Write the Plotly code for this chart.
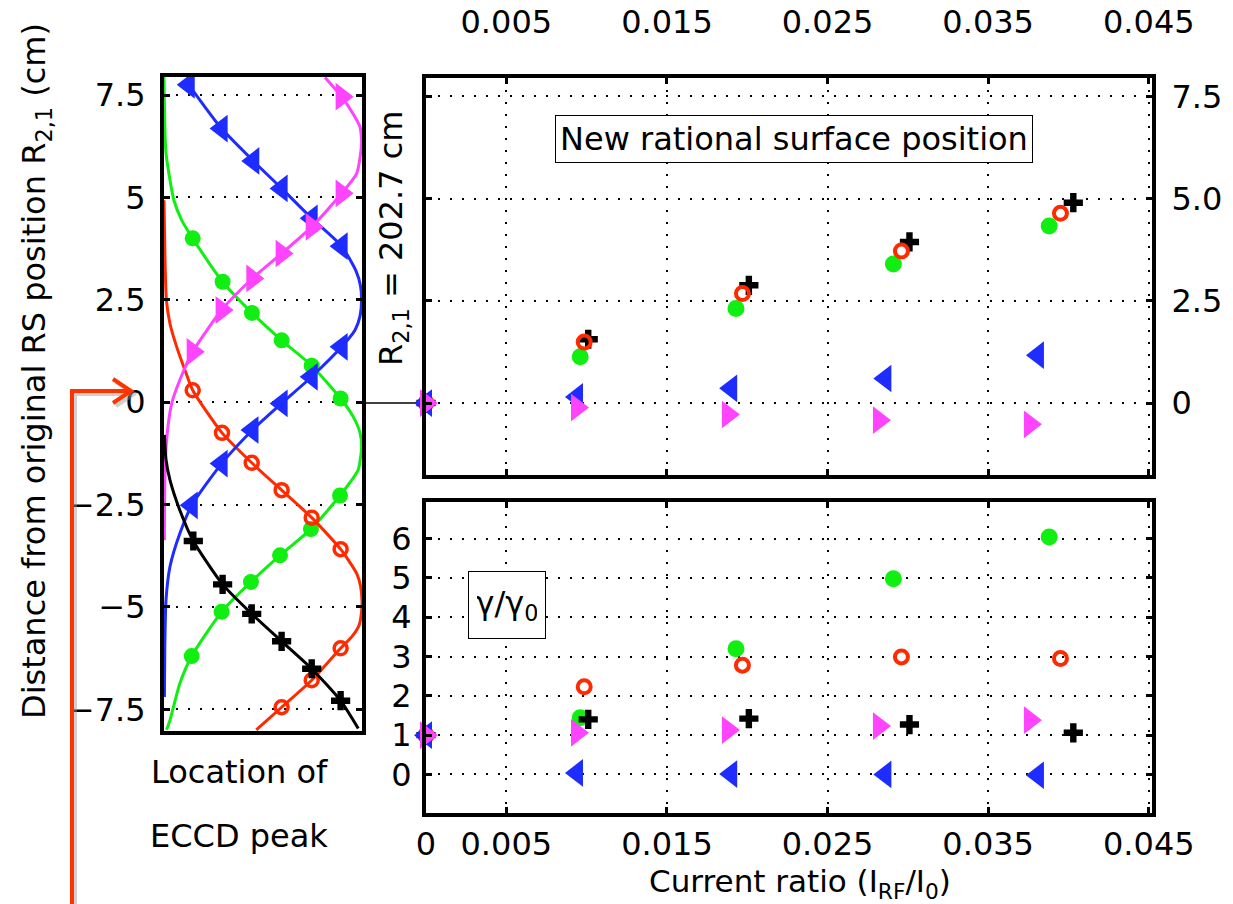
import plotly.graph_objects as go

W, H = 1233, 904

# ---------------- data: left panel (ECCD peak location curves) ----------------
green_curve_x = [0.0, 0.003, 0.01, 0.05, 0.09, 0.145, 0.296, 0.444, 0.594, 0.746, 0.892, 0.956, 0.99, 0.998, 0.98, 0.889, 0.742, 0.586, 0.439, 0.291, 0.14, 0.08, 0.03, 0.013]
green_curve_y = [7.94, 7.0, 6.08, 4.93, 4.44, 4.0, 2.94, 2.18, 1.51, 0.89, 0.09, -0.36, -0.75, -1.09, -1.66, -2.28, -3.1, -3.74, -4.39, -5.12, -6.2, -6.87, -7.77, -8.0]
green_mark_x = [0.145, 0.296, 0.444, 0.594, 0.746, 0.892, 0.889, 0.742, 0.586, 0.439, 0.291, 0.14]
green_mark_y = [4.0, 2.94, 2.18, 1.51, 0.89, 0.09, -2.28, -3.1, -3.74, -4.39, -5.12, -6.2]

red_curve_x = [0.0, 0.005, 0.012, 0.03, 0.064, 0.106, 0.145, 0.293, 0.443, 0.594, 0.746, 0.892, 0.973, 0.993, 1.0, 0.997, 0.985, 0.95, 0.892, 0.746, 0.594, 0.466]
red_curve_y = [4.93, 3.5, 2.5, 1.92, 1.35, 0.78, 0.29, -0.75, -1.48, -2.15, -2.82, -3.59, -4.18, -4.5, -4.84, -5.15, -5.45, -5.72, -6.01, -6.79, -7.45, -8.0]
red_mark_x = [0.145, 0.293, 0.443, 0.594, 0.746, 0.892, 0.892, 0.746, 0.594]
red_mark_y = [0.29, -0.75, -1.48, -2.15, -2.82, -3.59, -6.01, -6.79, -7.45]

blue_curve_x = [0.125, 0.291, 0.451, 0.594, 0.746, 0.897, 0.97, 0.992, 0.998, 0.99, 0.965, 0.897, 0.746, 0.594, 0.447, 0.291, 0.14, 0.08, 0.03, 0.01, 0.004, 0.002]
blue_curve_y = [7.75, 6.68, 5.89, 5.22, 4.49, 3.81, 3.2, 2.85, 2.5, 2.1, 1.76, 1.35, 0.62, -0.03, -0.68, -1.5, -2.52, -3.21, -4.02, -4.84, -6.0, -7.2]
blue_mark_x = [0.125, 0.291, 0.451, 0.594, 0.746, 0.897, 0.897, 0.746, 0.594, 0.447, 0.291, 0.14]
blue_mark_y = [7.75, 6.68, 5.89, 5.22, 4.49, 3.81, 1.35, 0.62, -0.03, -0.68, -1.5, -2.52]

magenta_curve_x = [0.813, 0.897, 0.96, 0.99, 0.998, 0.973, 0.897, 0.746, 0.594, 0.446, 0.291, 0.145, 0.08, 0.039, 0.013, 0.004, 0.002]
magenta_curve_y = [7.93, 7.46, 7.0, 6.72, 6.32, 5.58, 5.10, 4.28, 3.63, 3.02, 2.25, 1.23, 0.54, -0.03, -0.93, -2.0, -3.37]
magenta_mark_x = [0.897, 0.897, 0.746, 0.594, 0.446, 0.291, 0.145]
magenta_mark_y = [7.46, 5.10, 4.28, 3.63, 3.02, 2.25, 1.23]

black_curve_x = [0.002, 0.01, 0.03, 0.08, 0.148, 0.296, 0.443, 0.594, 0.746, 0.892, 0.981]
black_curve_y = [-0.8, -1.4, -1.9, -2.64, -3.39, -4.45, -5.17, -5.84, -6.51, -7.29, -7.97]
black_mark_x = [0.148, 0.296, 0.443, 0.594, 0.746, 0.892]
black_mark_y = [-3.39, -4.45, -5.17, -5.84, -6.51, -7.29]

# ---------------- data: right panels ----------------
black_ratio = [0, 0.0101, 0.0201, 0.0301, 0.0403]
red_ratio = [0, 0.00985, 0.0197, 0.0296, 0.0395]
green_ratio = [0, 0.0096, 0.0193, 0.0291, 0.0388]
blue_ratio = [0, 0.0094, 0.019, 0.0286, 0.0381]
magenta_ratio = [0, 0.0094, 0.0188, 0.0282, 0.0376]

black_rs = [0, 1.56, 2.88, 3.94, 4.90]
red_rs = [0, 1.49, 2.68, 3.72, 4.64]
green_rs = [0, 1.13, 2.31, 3.40, 4.33]
blue_rs = [0, 0.15, 0.36, 0.60, 1.17]
magenta_rs = [0, -0.11, -0.28, -0.42, -0.52]

black_gamma = [1, 1.40, 1.42, 1.27, 1.06]
red_gamma = [1, 2.23, 2.78, 2.99, 2.95]
green_gamma = [1, 1.44, 3.20, 4.98, 6.04]
magenta_gamma = [1, 1.06, 1.13, 1.23, 1.38]
blue_gamma = [1, 0.04, 0.01, 0.0, -0.02]

left_ticks = [-7.5, -5, -2.5, 0, 2.5, 5, 7.5]
left_ticktext = ["\u22127.5", "\u22125", "\u22122.5", "0", "2.5", "5", "7.5"]
top_ticks = [0, 2.5, 5, 7.5]
top_ticktext = ["0", "2.5", "5.0", "7.5"]
ratio_ticks = [0.005, 0.015, 0.025, 0.035, 0.045]
ratio_ticktext = ["0.005", "0.015", "0.025", "0.035", "0.045"]
ratio_ticks_bottom = [0, 0.005, 0.015, 0.025, 0.035, 0.045]
ratio_ticktext_bottom = ["0", "0.005", "0.015", "0.025", "0.035", "0.045"]
gamma_ticks = [0, 1, 2, 3, 4, 5, 6]

# ---------------- style ----------------
GREEN = "#11ee11"
RED = "#ff2a00"
BLUE = "#1e2cff"
MAGENTA = "#ff44ff"
BLACK = "#000000"
FONT = "DejaVu Sans"
FS = 32


def px(x):
    return x / W


def py(y):
    return 1 - y / H


fig = go.Figure()

# left panel curves
left_sets = [
    (green_curve_x, green_curve_y, green_mark_x, green_mark_y, GREEN, "circle", 16, 0),
    (red_curve_x, red_curve_y, red_mark_x, red_mark_y, RED, "circle-open", 13, 3.5),
    (blue_curve_x, blue_curve_y, blue_mark_x, blue_mark_y, BLUE, "triangle-left", 24, 0),
    (magenta_curve_x, magenta_curve_y, magenta_mark_x, magenta_mark_y, MAGENTA, "triangle-right", 24, 0),
    (black_curve_x, black_curve_y, black_mark_x, black_mark_y, BLACK, "cross", 16, 0),
]
for cx, cy, mx, my, col, sym, sz, lw in left_sets:
    fig.add_trace(go.Scatter(x=cx, y=cy, mode="lines", line=dict(color=col, width=3, shape="spline", smoothing=0.6),
                             xaxis="x", yaxis="y", showlegend=False, hoverinfo="skip"))
    fig.add_trace(go.Scatter(x=mx, y=my, mode="markers",
                             marker=dict(symbol=sym, size=sz, color=col, line=dict(color=col, width=lw)),
                             xaxis="x", yaxis="y", showlegend=False))

# right panels
right_sets = [
    (green_ratio, green_rs, green_gamma, GREEN, "circle", 17, 0),
    (black_ratio, black_rs, black_gamma, BLACK, "cross", 16, 0),
    (red_ratio, red_rs, red_gamma, RED, "circle-open", 13, 4),
    (blue_ratio, blue_rs, blue_gamma, BLUE, "triangle-left", 24, 0),
    (magenta_ratio, magenta_rs, magenta_gamma, MAGENTA, "triangle-right", 24, 0),
]
for rx, rs, gm, col, sym, sz, lw in right_sets:
    mk = dict(symbol=sym, size=sz, color=col, line=dict(color=col, width=lw))
    fig.add_trace(go.Scatter(x=rx, y=rs, mode="markers", marker=mk, xaxis="x2", yaxis="y2",
                             showlegend=False, cliponaxis=False))
    fig.add_trace(go.Scatter(x=rx, y=gm, mode="markers", marker=mk, xaxis="x3", yaxis="y3",
                             showlegend=False, cliponaxis=False))

axis_common = dict(showline=True, linecolor="black", linewidth=4, mirror="ticks",
                   ticks="inside", ticklen=6, tickwidth=3, tickcolor="black", automargin=False,
                   zeroline=False, tickfont=dict(family=FONT, size=FS, color="black"),
                   gridcolor="black", gridwidth=2, griddash="2px,10px")

fig.update_layout(
    width=W, height=H, autosize=False,
    margin=dict(l=0, r=0, t=0, b=0, pad=0, autoexpand=False),
    paper_bgcolor="white", plot_bgcolor="white",
    font=dict(family=FONT, size=FS, color="black"),
    xaxis=dict(domain=[px(164), px(362)], range=[0, 1.0], anchor="y", showticklabels=False,
               showgrid=False, ticks="", showline=True, linecolor="black", linewidth=4, mirror=True,
               zeroline=False, automargin=False),
    yaxis=dict(domain=[py(731), py(77)], range=[-8.03, 7.94], anchor="x",
               tickvals=left_ticks, ticktext=left_ticktext, showgrid=True, ticklabelstandoff=8,
               **axis_common),
    xaxis2=dict(domain=[px(426), px(1152)], range=[0, 0.0452], anchor="y2", side="top",
                tickvals=ratio_ticks, ticktext=ratio_ticktext, showgrid=True, ticklabelstandoff=28,
                **axis_common),
    yaxis2=dict(domain=[py(475), py(78)], range=[-1.76, 7.95], anchor="x2", side="right",
                tickvals=top_ticks, ticktext=top_ticktext, showgrid=True, ticklabelstandoff=9,
                **axis_common),
    xaxis3=dict(domain=[px(426), px(1152)], range=[0, 0.0452], anchor="y3", side="bottom",
                tickvals=ratio_ticks_bottom, ticktext=ratio_ticktext_bottom, showgrid=True,
                ticklabelstandoff=0, **axis_common),
    yaxis3=dict(domain=[py(813), py(502)], range=[-0.98, 6.93], anchor="x3", side="left",
                tickvals=gamma_ticks, showgrid=True, ticklabelstandoff=4,
                **axis_common),
)


def text_ann(text, x, y, size=FS, angle=0, **kw):
    d = dict(text=text, x=px(x), y=py(y), xref="paper", yref="paper", showarrow=False,
             textangle=angle, font=dict(family=FONT, size=size, color="black"),
             xanchor="center", yanchor="middle")
    d.update(kw)
    return d


ann = [
    text_ann("Distance from original RS position R<sub>2,1</sub> (cm)", 36, 371, angle=-90),
    text_ann("R<sub>2,1</sub> = 202.7 cm", 393, 238, angle=-90),
    text_ann("Location of", 239, 772),
    text_ann("ECCD peak", 239, 836),
    text_ann("Current ratio (I<sub>RF</sub>/I<sub>0</sub>)", 800, 883, size=31),
    text_ann("New rational surface position", 794, 139, size=FS, bordercolor="black", borderwidth=1,
             borderpad=4, bgcolor="white"),
    text_ann("\u03b3/\u03b3<sub>0</sub>", 507, 605, width=60, height=50, bordercolor="black", borderwidth=1,
             borderpad=8, bgcolor="white"),
]
fig.update_layout(annotations=ann)

shapes = []
# connector line from left panel to right panel at R = 0
shapes.append(dict(type="line", xref="paper", yref="y2", x0=px(362), x1=px(426), y0=0, y1=0,
                   line=dict(color="black", width=1.5), layer="below"))
# red arrow with light shadow
for off, col in [(3, "rgba(150,150,150,0.45)"), (0, "#ff3300")]:
    path = "M {:.5f} {:.5f} L {:.5f} {:.5f} L {:.5f} {:.5f}".format(
        px(72 + off), py(910), px(72 + off), py(391 + off), px(128 + off), py(391 + off))
    shapes.append(dict(type="path", xref="paper", yref="paper", path=path,
                       line=dict(color=col, width=4)))
    head = "M {:.5f} {:.5f} L {:.5f} {:.5f} L {:.5f} {:.5f}".format(
        px(113 + off), py(379 + off), px(131 + off), py(391 + off), px(113 + off), py(403 + off))
    shapes.append(dict(type="path", xref="paper", yref="paper", path=head,
                       line=dict(color=col, width=4)))
fig.update_layout(shapes=shapes)

fig.write_html("out.html", config={"displayModeBar": False},
               post_script="document.body.style.margin='0px';document.body.style.overflow='hidden';")
